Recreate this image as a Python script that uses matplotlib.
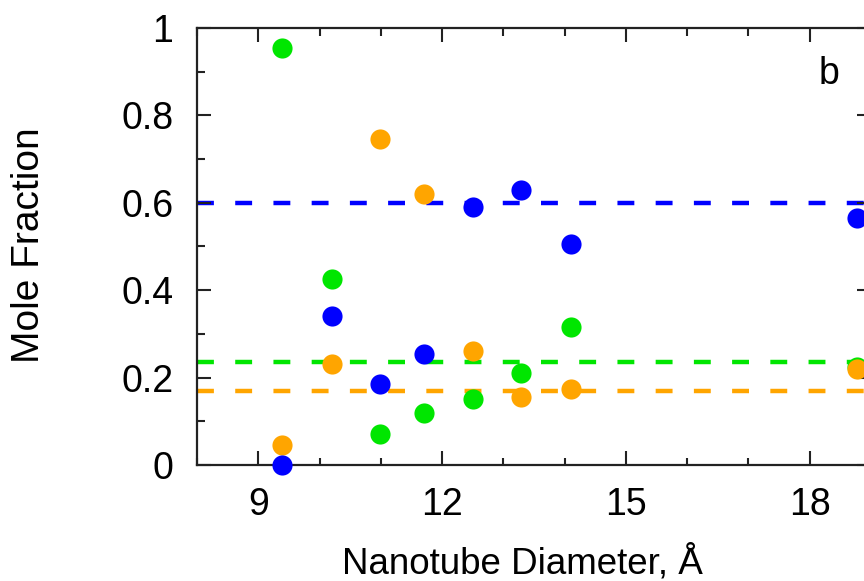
import numpy as np
import matplotlib.pyplot as plt
from matplotlib.ticker import MultipleLocator, FuncFormatter

plt.rcParams['font.family'] = ['Liberation Sans', 'DejaVu Sans']

# nanotube diameters (Angstrom)
diam = [9.39, 10.21, 10.99, 11.71, 12.51, 13.29, 14.1, 18.77]

green = [0.955, 0.425, 0.07, 0.12, 0.15, 0.21, 0.315, 0.224]
orange = [0.045, 0.23, 0.745, 0.62, 0.26, 0.155, 0.175, 0.22]
blue = [0.0, 0.34, 0.185, 0.255, 0.59, 0.63, 0.505, 0.565]

# bulk mole fractions (dashed reference lines)
bulk_blue = 0.6
bulk_green = 0.235
bulk_orange = 0.17

c_blue = '#0000ff'
c_green = '#00e600'
c_orange = '#ffa500'

fig = plt.figure(figsize=(8.64, 5.81), dpi=100)
ax = fig.add_axes([197 / 864, 116 / 581, 674 / 864, 437 / 581])

dash = (0, (3.8, 4.8))
ax.axhline(bulk_blue, color=c_blue, lw=3.2, ls=dash, zorder=1)
ax.axhline(bulk_green, color=c_green, lw=3.2, ls=dash, zorder=1)
ax.axhline(bulk_orange, color=c_orange, lw=3.2, ls=dash, zorder=1)

ms = 14.5
ax.plot(diam, green, 'o', color=c_green, ms=ms, mec='none', zorder=2, clip_on=False)
ax.plot(diam, orange, 'o', color=c_orange, ms=ms, mec='none', zorder=3, clip_on=False)
ax.plot(diam, blue, 'o', color=c_blue, ms=ms, mec='none', zorder=4, clip_on=False)

ax.set_xlim(8, 19)
ax.set_ylim(0, 1)
ax.xaxis.set_major_locator(MultipleLocator(3))
ax.xaxis.set_minor_locator(MultipleLocator(1))
ax.yaxis.set_major_locator(MultipleLocator(0.2))
ax.yaxis.set_minor_locator(MultipleLocator(0.1))
ax.yaxis.set_major_formatter(FuncFormatter(lambda v, p: f'{v:g}'))

ax.tick_params(which='both', direction='in', top=True, right=True,
               labelsize=27, width=1.5, color='#222222')
ax.tick_params(axis='x', which='major', length=10, pad=16)
ax.tick_params(axis='y', which='major', length=10, pad=17)
ax.tick_params(which='minor', length=5.4)
for s in ax.spines.values():
    s.set_linewidth(1.6)
    s.set_color('#222222')

ax.set_xlabel('Nanotube Diameter, Å', fontsize=26.5)
ax.xaxis.set_label_coords(522 / 864, 7 / 581, transform=fig.transFigure)
ax.xaxis.label.set_va('baseline')
ax.set_ylabel('Mole Fraction', fontsize=28)
ax.yaxis.set_label_coords(29 / 864, 1 - 245 / 581, transform=fig.transFigure)
ax.yaxis.label.set_va('center')
ax.text(18.31, 0.895, 'b', fontsize=27, ha='center', va='center')

fig.savefig('out.png', dpi=100)
